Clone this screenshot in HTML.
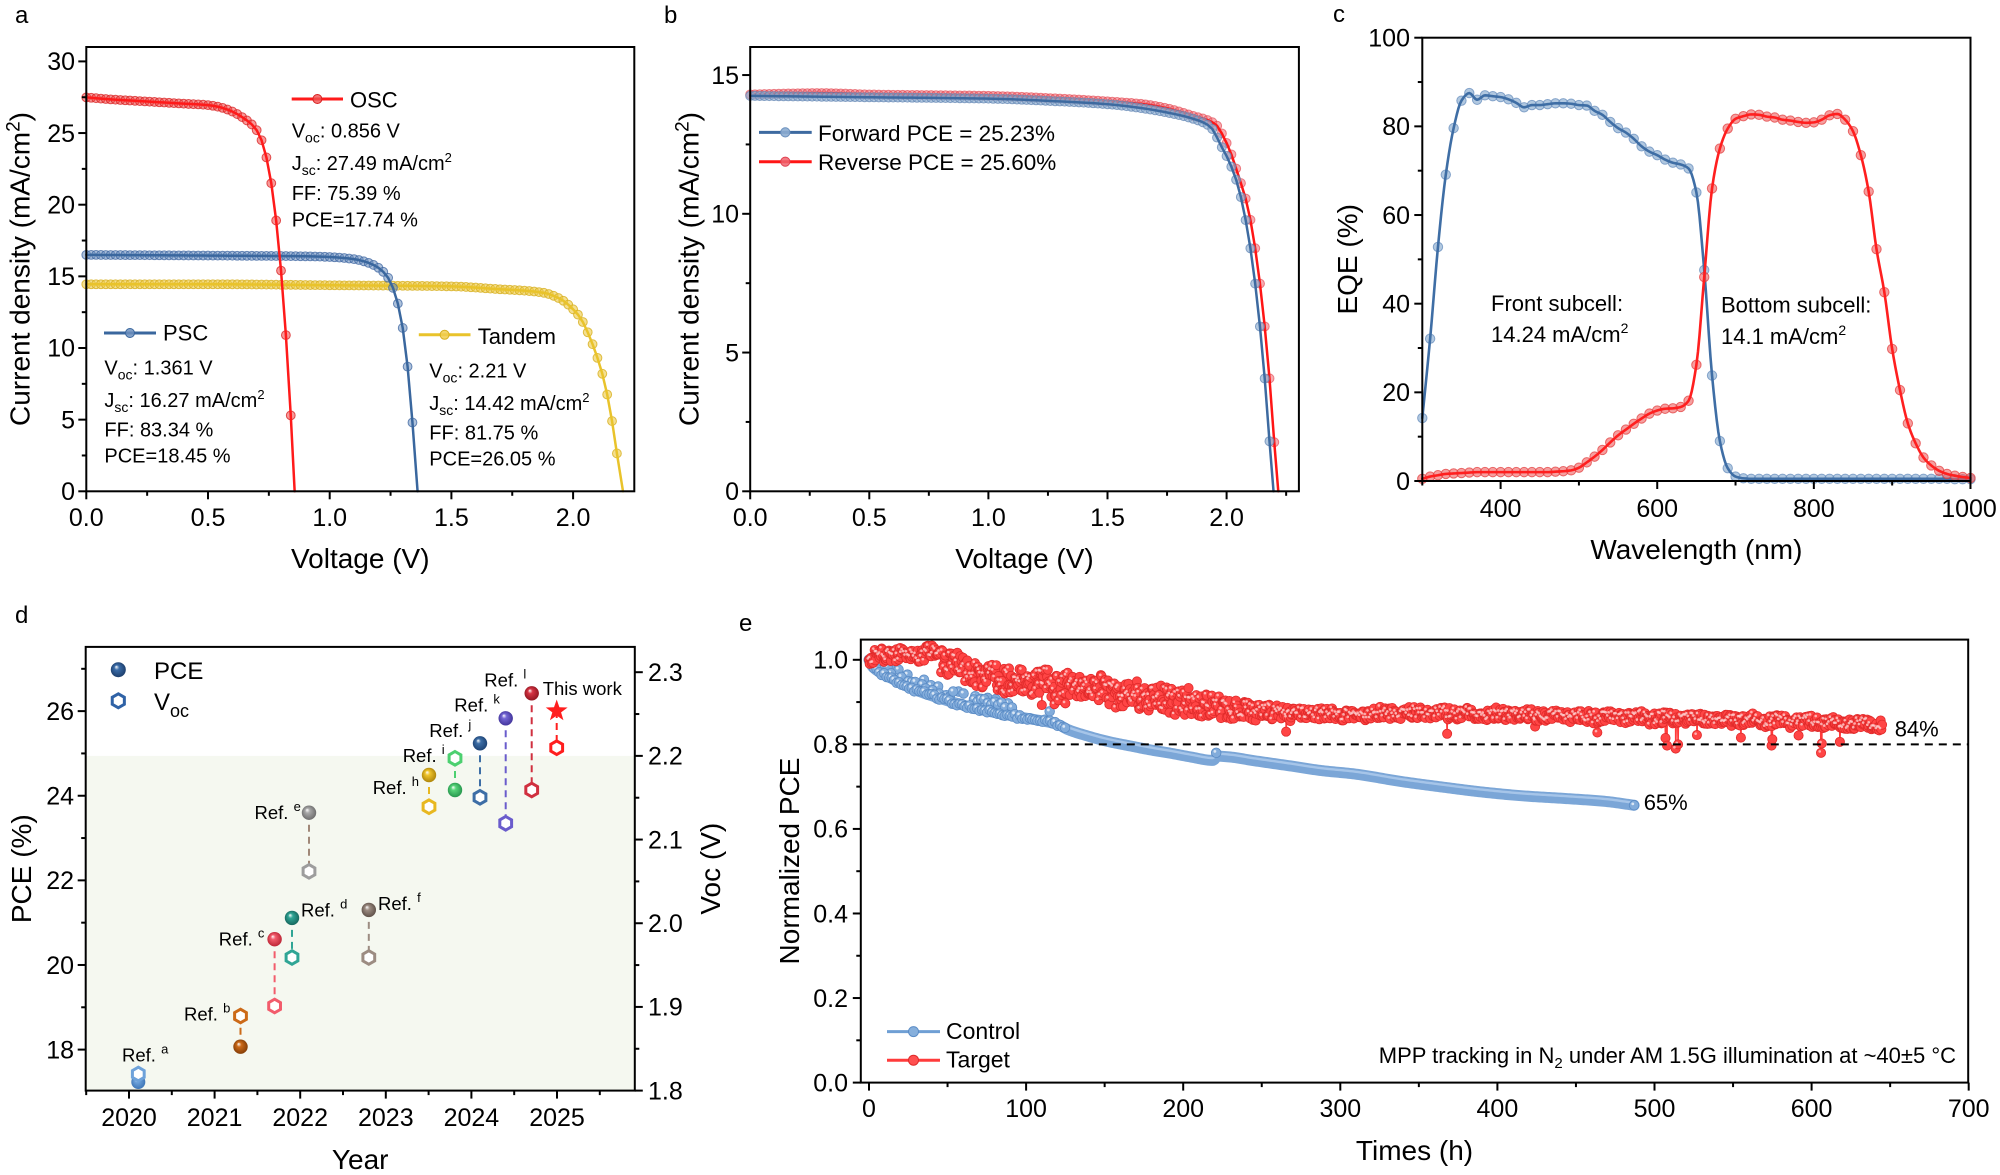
<!DOCTYPE html>
<html><head><meta charset="utf-8"><title>Solar cell figure</title>
<style>
html,body{margin:0;padding:0;background:#fff;width:2000px;height:1175px;overflow:hidden;}
svg{display:block;}
svg text{font-family:"Liberation Sans",Arial,Helvetica,sans-serif;fill:#000;}
</style></head>
<body>
<svg id="fig" width="2000" height="1175" viewBox="0 0 2000 1175">
<rect x="0" y="0" width="2000" height="1175" fill="#fff"/>
<rect x="85.7" y="755.9" width="549.1" height="334.7" fill="#f5f8f0"/>
<g id="dyn"></g>
<g fill="none" stroke="#000" stroke-width="2">
<rect x="86.3" y="47" width="548" height="444.3"/>
<rect x="750.2" y="47" width="548.7" height="444.3"/>
<rect x="1422.3" y="37.7" width="548.2" height="443.3"/>
<rect x="85.7" y="646.9" width="549.1" height="443.7"/>
<rect x="860.8" y="639.6" width="1107.4" height="443"/>
</g>
<g id="tk"></g>
<g id="txt">
<!-- panel labels -->
<text x="15" y="23" font-size="24">a</text>
<text x="664" y="23" font-size="24">b</text>
<text x="1333" y="22" font-size="24">c</text>
<text x="15" y="623" font-size="24">d</text>
<text x="739" y="631" font-size="24">e</text>

<!-- panel a ticks -->
<g font-size="25">
<text x="75" y="500" text-anchor="end">0</text>
<text x="75" y="428.4" text-anchor="end">5</text>
<text x="75" y="356.7" text-anchor="end">10</text>
<text x="75" y="285.1" text-anchor="end">15</text>
<text x="75" y="213.4" text-anchor="end">20</text>
<text x="75" y="141.8" text-anchor="end">25</text>
<text x="75" y="70.1" text-anchor="end">30</text>
<text x="86.3" y="526.2" text-anchor="middle">0.0</text>
<text x="208" y="526.2" text-anchor="middle">0.5</text>
<text x="329.7" y="526.2" text-anchor="middle">1.0</text>
<text x="451.4" y="526.2" text-anchor="middle">1.5</text>
<text x="573.1" y="526.2" text-anchor="middle">2.0</text>
</g>
<text x="360.3" y="568" font-size="28" text-anchor="middle">Voltage (V)</text>
<text transform="translate(19.5,269) rotate(-90)" x="0" y="10" font-size="28" text-anchor="middle">Current density (mA/cm<tspan dy="-10" font-size="19">2</tspan><tspan dy="10">)</tspan></text>
<!-- panel a annotations -->
<text x="350" y="107.3" font-size="22">OSC</text>
<text x="291.7" y="137.5" font-size="20">V<tspan dy="5" font-size="14">oc</tspan><tspan dy="-5">: 0.856 V</tspan></text>
<text x="291.7" y="170" font-size="20">J<tspan dy="5" font-size="14">sc</tspan><tspan dy="-5">: 27.49 mA/cm</tspan><tspan dy="-8" font-size="13">2</tspan></text>
<text x="291.7" y="200" font-size="20">FF: 75.39 %</text>
<text x="291.7" y="226.5" font-size="20">PCE=17.74 %</text>
<text x="163" y="340.4" font-size="22">PSC</text>
<text x="104.4" y="374.5" font-size="20">V<tspan dy="5" font-size="14">oc</tspan><tspan dy="-5">: 1.361 V</tspan></text>
<text x="104.4" y="407" font-size="20">J<tspan dy="5" font-size="14">sc</tspan><tspan dy="-5">: 16.27 mA/cm</tspan><tspan dy="-8" font-size="13">2</tspan></text>
<text x="104.4" y="436.5" font-size="20">FF: 83.34 %</text>
<text x="104.4" y="462.5" font-size="20">PCE=18.45 %</text>
<text x="477.7" y="344" font-size="22">Tandem</text>
<text x="429.3" y="377.4" font-size="20">V<tspan dy="5" font-size="14">oc</tspan><tspan dy="-5">: 2.21 V</tspan></text>
<text x="429.3" y="410" font-size="20">J<tspan dy="5" font-size="14">sc</tspan><tspan dy="-5">: 14.42 mA/cm</tspan><tspan dy="-8" font-size="13">2</tspan></text>
<text x="429.3" y="439.5" font-size="20">FF: 81.75 %</text>
<text x="429.3" y="465.4" font-size="20">PCE=26.05 %</text>

<!-- panel b -->
<g font-size="25">
<text x="739" y="500" text-anchor="end">0</text>
<text x="739" y="361.3" text-anchor="end">5</text>
<text x="739" y="222.5" text-anchor="end">10</text>
<text x="739" y="83.8" text-anchor="end">15</text>
<text x="750.2" y="526.2" text-anchor="middle">0.0</text>
<text x="869.3" y="526.2" text-anchor="middle">0.5</text>
<text x="988.4" y="526.2" text-anchor="middle">1.0</text>
<text x="1107.5" y="526.2" text-anchor="middle">1.5</text>
<text x="1226.6" y="526.2" text-anchor="middle">2.0</text>
</g>
<text x="1024.5" y="568" font-size="28" text-anchor="middle">Voltage (V)</text>
<text transform="translate(688.5,269) rotate(-90)" x="0" y="10" font-size="28" text-anchor="middle">Current density (mA/cm<tspan dy="-10" font-size="19">2</tspan><tspan dy="10">)</tspan></text>
<text x="818" y="141" font-size="22.5">Forward PCE = 25.23%</text>
<text x="818" y="170" font-size="22.5">Reverse PCE = 25.60%</text>

<!-- panel c -->
<g font-size="25">
<text x="1410" y="489.8" text-anchor="end">0</text>
<text x="1410" y="401" text-anchor="end">20</text>
<text x="1410" y="312.4" text-anchor="end">40</text>
<text x="1410" y="223.8" text-anchor="end">60</text>
<text x="1410" y="135.1" text-anchor="end">80</text>
<text x="1410" y="46.4" text-anchor="end">100</text>
<text x="1500.6" y="516.8" text-anchor="middle">400</text>
<text x="1657.2" y="516.8" text-anchor="middle">600</text>
<text x="1813.8" y="516.8" text-anchor="middle">800</text>
<text x="1969" y="516.8" text-anchor="middle">1000</text>
</g>
<text x="1696.4" y="559" font-size="28" text-anchor="middle">Wavelength (nm)</text>
<text transform="translate(1347,259.3) rotate(-90)" x="0" y="10" font-size="28" text-anchor="middle">EQE (%)</text>
<text x="1491" y="311" font-size="22">Front subcell:</text>
<text x="1491" y="342" font-size="22">14.24 mA/cm<tspan dy="-9" font-size="14">2</tspan></text>
<text x="1721" y="312.6" font-size="22">Bottom subcell:</text>
<text x="1721" y="344" font-size="22">14.1 mA/cm<tspan dy="-9" font-size="14">2</tspan></text>

<!-- panel d -->
<g font-size="25">
<text x="74" y="1058.4" text-anchor="end">18</text>
<text x="74" y="973.8" text-anchor="end">20</text>
<text x="74" y="889.2" text-anchor="end">22</text>
<text x="74" y="804.5" text-anchor="end">24</text>
<text x="74" y="719.9" text-anchor="end">26</text>
<text x="648" y="1099.4">1.8</text>
<text x="648" y="1015.7">1.9</text>
<text x="648" y="932">2.0</text>
<text x="648" y="848.4">2.1</text>
<text x="648" y="764.7">2.2</text>
<text x="648" y="681">2.3</text>
<text x="129" y="1126" text-anchor="middle">2020</text>
<text x="214.6" y="1126" text-anchor="middle">2021</text>
<text x="300.2" y="1126" text-anchor="middle">2022</text>
<text x="385.8" y="1126" text-anchor="middle">2023</text>
<text x="471.4" y="1126" text-anchor="middle">2024</text>
<text x="557" y="1126" text-anchor="middle">2025</text>
</g>
<text x="360.2" y="1169" font-size="28" text-anchor="middle">Year</text>
<text transform="translate(21,868.7) rotate(-90)" x="0" y="10" font-size="28" text-anchor="middle">PCE (%)</text>
<text transform="translate(710,868.7) rotate(-90)" x="0" y="10" font-size="28" text-anchor="middle">Voc (V)</text>
<text x="154" y="679" font-size="24">PCE</text>
<text x="154" y="710" font-size="24">V<tspan dy="7" font-size="18">oc</tspan></text>
<text x="122" y="1061.5" font-size="18.5">Ref. <tspan dy="-8" font-size="13">a</tspan></text>
<text x="184" y="1020.5" font-size="18.5">Ref. <tspan dy="-8" font-size="13">b</tspan></text>
<text x="218.8" y="945.5" font-size="18.5">Ref. <tspan dy="-8" font-size="13">c</tspan></text>
<text x="301" y="916.5" font-size="18.5">Ref. <tspan dy="-8" font-size="13">d</tspan></text>
<text x="254.5" y="819.2" font-size="18.5">Ref. <tspan dy="-8" font-size="13">e</tspan></text>
<text x="378" y="910.1" font-size="18.5">Ref. <tspan dy="-8" font-size="13">f</tspan></text>
<text x="372.7" y="794.2" font-size="18.5">Ref. <tspan dy="-8" font-size="13">h</tspan></text>
<text x="402.7" y="762.2" font-size="18.5">Ref. <tspan dy="-8" font-size="13">i</tspan></text>
<text x="429.3" y="737.2" font-size="18.5">Ref. <tspan dy="-8" font-size="13">j</tspan></text>
<text x="454.3" y="711.5" font-size="18.5">Ref. <tspan dy="-8" font-size="13">k</tspan></text>
<text x="484.3" y="686.5" font-size="18.5">Ref. <tspan dy="-8" font-size="13">l</tspan></text>
<text x="542.7" y="694.8" font-size="18.5">This work</text>

<!-- panel e -->
<g font-size="25">
<text x="848" y="1091.4" text-anchor="end">0.0</text>
<text x="848" y="1006.8" text-anchor="end">0.2</text>
<text x="848" y="922.3" text-anchor="end">0.4</text>
<text x="848" y="837.7" text-anchor="end">0.6</text>
<text x="848" y="753.2" text-anchor="end">0.8</text>
<text x="848" y="668.6" text-anchor="end">1.0</text>
<text x="869" y="1117" text-anchor="middle">0</text>
<text x="1026.1" y="1117" text-anchor="middle">100</text>
<text x="1183.2" y="1117" text-anchor="middle">200</text>
<text x="1340.3" y="1117" text-anchor="middle">300</text>
<text x="1497.4" y="1117" text-anchor="middle">400</text>
<text x="1654.5" y="1117" text-anchor="middle">500</text>
<text x="1811.6" y="1117" text-anchor="middle">600</text>
<text x="1968.7" y="1117" text-anchor="middle">700</text>
</g>
<text x="1414.5" y="1160" font-size="28" text-anchor="middle">Times (h)</text>
<text transform="translate(789,861) rotate(-90)" x="0" y="10" font-size="28" text-anchor="middle">Normalized PCE</text>
<text x="946" y="1039" font-size="23">Control</text>
<text x="946" y="1067.5" font-size="23">Target</text>
<text x="1894.7" y="736.5" font-size="22">84%</text>
<text x="1643.7" y="810" font-size="22">65%</text>
<text x="1956" y="1063" font-size="22" text-anchor="end">MPP tracking in N<tspan dy="5" font-size="15">2</tspan><tspan dy="-5"> under AM 1.5G illumination at ~40±5 °C</tspan></text>
</g>
</svg>
<script>
(function(){
var o=[],tko=[];
function P(s){o.push(s);}
function n(v){return Math.round(v*100)/100;}
function L(x1,y1,x2,y2,c,w,ex){P('<line x1="'+n(x1)+'" y1="'+n(y1)+'" x2="'+n(x2)+'" y2="'+n(y2)+'" stroke="'+c+'" stroke-width="'+w+'"'+(ex||'')+'/>');}
function C(x,y,r,f,ex){P('<circle cx="'+n(x)+'" cy="'+n(y)+'" r="'+r+'" fill="'+f+'"'+(ex||'')+'/>');}
function PL(pts,c,w,ex){var s=[];for(var i=0;i<pts.length;i++)s.push(n(pts[i][0])+','+n(pts[i][1]));P('<polyline points="'+s.join(' ')+'" fill="none" stroke="'+c+'" stroke-width="'+w+'" stroke-linejoin="round" stroke-linecap="round"'+(ex||'')+'/>');}
function rng(a,b,s){var r=[];for(var i=0;;i++){var v=a+i*s;if(v>b+1e-9)break;r.push(v);}return r;}
function pchip(xs,ys){
 var N=xs.length,h=[],d=[],m=new Array(N);
 for(var i=0;i<N-1;i++){h[i]=xs[i+1]-xs[i];d[i]=(ys[i+1]-ys[i])/h[i];}
 m[0]=d[0];m[N-1]=d[N-2];
 for(var i=1;i<N-1;i++){
  if(d[i-1]*d[i]<=0)m[i]=0;
  else{var w1=2*h[i]+h[i-1],w2=h[i]+2*h[i-1];m[i]=(w1+w2)/(w1/d[i-1]+w2/d[i]);}
 }
 return function(x){
  if(x<=xs[0])return ys[0];if(x>=xs[N-1])return ys[N-1];
  var i=0;while(i<N-2&&x>xs[i+1])i++;
  var hh=h[i],t=(x-xs[i])/hh,t2=t*t,t3=t2*t;
  return (2*t3-3*t2+1)*ys[i]+(t3-2*t2+t)*hh*m[i]+(-2*t3+3*t2)*ys[i+1]+(t3-t2)*hh*m[i+1];
 };
}
function TK(x1,y1,x2,y2){tko.push('<line x1="'+n(x1)+'" y1="'+n(y1)+'" x2="'+n(x2)+'" y2="'+n(y2)+'" stroke="#000" stroke-width="2"/>');}
function yt(Lx,vals,Y,len,dir){vals.forEach(function(v){var y=Y(v);TK(Lx,y,Lx-dir*len,y);});}
function xt(By,vals,X,len){vals.forEach(function(v){var x=X(v);TK(x,By,x,By+len);});}

/* ---------- Panel a ---------- */
var aX=function(v){return 86.3+243.4*v;},aY=function(j){return 491.3-14.33*j;};
function ivSeries(xs,ys,vmax,vend,X,Y,lc,mf,ms,r){
 var f=pchip(xs,ys),pts=[];
 for(var i=0;;i++){var v=i*0.02;if(v>vmax+1e-6)break;pts.push([X(v),Y(f(v))]);}
 pts.forEach(function(p){C(p[0],p[1],r,mf,' stroke="'+ms+'" stroke-width="1"');});
 var lp=pts.slice();lp.push([X(vend),Y(0)]);
 PL(lp,lc,2.5);
}
ivSeries([0,0.5,1.0,1.5,1.7,1.8,1.88,1.95,2.0,2.03,2.06,2.09,2.12,2.15,2.17,2.19,2.205],
 [14.45,14.45,14.38,14.3,14.1,14.0,13.85,13.4,12.7,12.1,11.1,9.8,8.2,5.9,3.8,1.5,0],
 2.19,2.205,aX,aY,'#e9c32b','rgba(236,202,70,0.6)','rgba(215,175,30,0.8)',4.4);
ivSeries([0,0.5,0.9,1.0,1.1,1.15,1.2,1.24,1.26,1.28,1.30,1.32,1.34,1.361],
 [16.5,16.45,16.4,16.35,16.2,16.0,15.6,14.9,14.2,13.1,11.4,8.7,4.8,0],
 1.34,1.361,aX,aY,'#3a679e','rgba(105,142,190,0.55)','rgba(60,100,160,0.75)',4.4);
ivSeries([0,0.1,0.2,0.3,0.4,0.5,0.55,0.6,0.65,0.68,0.70,0.72,0.74,0.76,0.78,0.80,0.82,0.84,0.856],
 [27.49,27.35,27.25,27.15,27.05,26.95,26.8,26.5,26.0,25.6,25.2,24.5,23.3,21.5,18.9,15.4,10.9,5.3,0],
 0.84,0.856,aX,aY,'#ff1a1a','rgba(240,70,70,0.55)','rgba(215,30,30,0.75)',4.4);
L(291.7,99,343,99,'#ff1a1a',3);C(317.4,99,4.5,'rgba(240,80,80,0.8)',' stroke="#d82020" stroke-width="1"');
L(104,333,156,333,'#3a679e',3);C(130,333,4.5,'rgba(110,145,190,0.85)',' stroke="#3a679e" stroke-width="1"');
L(418.8,334.8,470.5,334.8,'#e9c32b',3);C(444.6,334.8,4.5,'rgba(240,205,80,0.85)',' stroke="#d8b020" stroke-width="1"');
yt(86.3,rng(0,30,5),aY,8,1);yt(86.3,rng(2.5,27.5,5),aY,4.5,1);
xt(491.3,rng(0,2,0.5),aX,8);xt(491.3,rng(0.25,1.75,0.5),aX,4.5);

/* ---------- Panel b ---------- */
var bX=function(v){return 750.2+238.2*v;},bY=function(j){return 491.3-27.75*j;};
ivSeries([0,0.3,0.5,1.0,1.3,1.5,1.65,1.75,1.85,1.95,2.0,2.03,2.05,2.07,2.09,2.11,2.13,2.15,2.17,2.19,2.21,2.217],
 [14.3,14.35,14.3,14.25,14.15,14.05,13.95,13.8,13.55,13.25,12.55,11.9,11.35,10.85,10.2,9.3,8.15,6.75,5.05,3.0,0.6,0],
 2.21,2.217,bX,bY,'#ff1515','rgba(240,90,100,0.5)','rgba(225,60,70,0.6)',4.5);
ivSeries([0,0.5,1.0,1.3,1.5,1.65,1.75,1.85,1.93,1.98,2.01,2.05,2.07,2.09,2.11,2.13,2.15,2.17,2.19,2.197],
 [14.25,14.2,14.15,14.05,13.95,13.8,13.65,13.45,13.15,12.4,11.9,10.95,10.2,9.3,8.15,6.75,5.05,3.0,0.65,0],
 2.19,2.197,bX,bY,'#3d6aa0','rgba(140,172,208,0.65)','rgba(100,135,180,0.75)',4.5);
L(759,132.4,811.7,132.4,'#3d6aa0',3);C(785.3,132.4,4.6,'rgba(140,172,208,0.9)',' stroke="#6d92bf" stroke-width="1"');
L(759,161.7,811.7,161.7,'#ff1515',3);C(785.3,161.7,4.6,'rgba(240,100,110,0.85)',' stroke="#e04050" stroke-width="1"');
yt(750.2,rng(0,15,5),bY,8,1);yt(750.2,rng(2.5,12.5,5),bY,4.5,1);
xt(491.3,rng(0,2,0.5),bX,8);xt(491.3,rng(0.25,2.25,0.5),bX,4.5);

/* ---------- Panel c ---------- */
var cX=function(w){return 1422.3+(w-300)*0.7831;},cY=function(e){return 481-4.433*e;};
var wl=rng(300,1000,10);
var blueC=[14.2,32.1,52.8,69.1,79.6,85.8,87.5,86.0,87.0,86.8,
 86.6,86.1,85.3,84.3,84.8,84.8,85.0,85.2,85.2,85.1,
 84.8,84.7,83.5,82.6,81.0,79.6,78.6,77.2,75.5,74.3,
 73.5,72.5,71.8,71.4,70.5,65.1,47.6,23.8,9.0,2.9,
 1.0,0.6,0.5,0.5,0.5,0.5,0.5,0.5,0.5,0.5,
 0.5,0.5,0.5,0.5,0.5,0.5,0.5,0.5,0.5,0.5,
 0.5,0.5,0.5,0.5,0.5,0.5,0.5,0.5,0.4,0.4,0.4];
var redC=[0.5,1.0,1.3,1.6,1.7,1.8,1.9,2.0,2.0,2.0,
 2.0,2.0,2.0,2.0,2.0,2.0,2.0,2.1,2.2,2.4,
 3.0,4.2,5.5,7.0,8.7,10.3,11.6,12.9,14.1,15.2,
 15.9,16.3,16.4,16.7,18.1,26.2,46.0,66.0,75.0,79.5,
 81.7,82.3,82.7,82.6,82.2,82.0,81.5,81.3,81.0,80.8,
 80.9,81.5,82.5,82.8,81.5,78.9,73.5,65.3,52.3,42.6,
 29.8,20.5,13.0,8.5,5.3,3.5,2.3,1.6,1.2,0.9,0.7];
function eqe(vals,lc,mf,ms){
 var f=pchip(wl,vals),lp=[];
 for(var w=300;w<=1000;w+=2)lp.push([cX(w),cY(f(w))]);
 for(var i=0;i<wl.length;i++)C(cX(wl[i]),cY(vals[i]),4.7,mf,' stroke="'+ms+'" stroke-width="1"');
 PL(lp,lc,2.6);
}
eqe(blueC,'#3f6ea5','rgba(135,170,208,0.65)','rgba(95,135,185,0.7)');
eqe(redC,'#ff1f1f','rgba(240,95,95,0.6)','rgba(225,55,55,0.7)');
yt(1422.3,rng(0,100,20),cY,8,1);yt(1422.3,rng(10,90,20),cY,4.5,1);
xt(481,rng(400,1000,200),cX,8);xt(481,rng(300,900,200),cX,4.5);

/* ---------- Panel d ---------- */
var dX=function(y){return 129+85.6*(y-2020);},dYl=function(p){return 1049.6-42.31*(p-18);},dYr=function(v){return 1090.6-836.8*(v-1.8);};
var gid=0;
function grad(c,dk){var id='bg'+(gid++);P('<radialGradient id="'+id+'" cx="0.5" cy="0.5" r="0.55" fx="0.36" fy="0.3"><stop offset="0" stop-color="#ffffff"/><stop offset="0.3" stop-color="'+c+'"/><stop offset="1" stop-color="'+dk+'"/></radialGradient>');return id;}
function ball(x,y,r,c,dk){var id=grad(c,dk);C(x,y,r,'url(#'+id+')');}
function hex(cx,cy,r,c){var s=[];for(var k=0;k<6;k++){var a=Math.PI/180*(-90+60*k);s.push(n(cx+r*Math.cos(a))+','+n(cy+r*Math.sin(a)));}P('<polygon points="'+s.join(' ')+'" fill="#fff" stroke="'+c+'" stroke-width="3"/>');}
function star(cx,cy,R,r,c){var s=[];for(var k=0;k<10;k++){var a=Math.PI/180*(-90+36*k),rr=(k%2)?r:R;s.push(n(cx+rr*Math.cos(a))+','+n(cy+rr*Math.sin(a)));}P('<polygon points="'+s.join(' ')+'" fill="'+c+'"/>');}
var refs=[
 [138.3,1082,1074,'#6ea2da','#3a72b4','#6ea2da',false],
 [240.5,1046.7,1016,'#cc6a18','#7e3a06','#cc6a18',true],
 [274.6,939.2,1006,'#f25c6c','#b82232','#f25c6c',true],
 [292,917.9,957.5,'#2fa595','#146259','#2fa595',true],
 [309,812.7,871.4,'#a8a8a8','#686868','#a08878',true],
 [368.8,909.9,957.5,'#9c8c82','#5a4c44','#9c8c82',true],
 [429,775,806.7,'#efc42c','#a88008','#e8b820',true],
 [455,790,758.3,'#58d47a','#23924a','#4cd070',true],
 [480,743.3,797.3,'#3d6ea6','#1a3f70','#3d6ea6',true],
 [505.7,718.3,823.3,'#7466d4','#3e3096','#6a5ccc',true],
 [531.7,693.3,790,'#d63444','#8c141e','#d03040',true]
];
refs.forEach(function(r){ if(r[6])L(r[0],r[1],r[0],r[2],r[5],2,' stroke-dasharray="7,5"'); });
refs.forEach(function(r){
 var hc=(r===refs[4])?'#9d9d9d':r[5];
 if(r===refs[0]){ball(r[0],r[1],7,r[3],r[4]);hex(r[0],r[2],6.8,r[3]);}
 else{hex(r[0],r[2],6.8,hc);ball(r[0],r[1],7.2,r[3],r[4]);}
});
L(556.7,711,556.7,747.7,'#ff1e1e',2,' stroke-dasharray="7,5"');
hex(556.7,747.7,6.8,'#ff1e1e');
star(556.7,711,11.5,4.6,'#ff1e1e');
ball(118.3,669.7,7.5,'#3a6ca8','#1a3a66');
hex(118.3,700.8,7,'#2f62a6');
yt(85.7,rng(18,26,2),dYl,8,1);yt(85.7,rng(19,27,2),dYl,4.5,1);
yt(634.8,rng(1.8,2.3,0.1),dYr,8,-1);yt(634.8,rng(1.85,2.25,0.1),dYr,4.5,-1);
xt(1090.6,rng(2020,2025,1),dX,8);xt(1090.6,rng(2019.5,2025.5,1),dX,4.5);

/* ---------- Panel e ---------- */
var eX=function(t){return 869+1.571*t;},eY=function(v){return 1082.6-422.8*v;};
var seed=987654;
function rnd(){seed|=0;seed=seed+0x6D2B79F5|0;var t=Math.imul(seed^seed>>>15,1|seed);t=t+Math.imul(t^t>>>7,61|t)^t;return((t^t>>>14)>>>0)/4294967296;}
// control
var cf=pchip([0,2,5,10,20,30,40,53,74,100,115,121,126,139,152,168,179,192,205,219,222,230,244,270,288,309,339,365,391,417,443,469,487],
 [1.0,0.985,0.975,0.965,0.945,0.928,0.915,0.9,0.88,0.862,0.852,0.846,0.836,0.82,0.807,0.795,0.787,0.779,0.77,0.762,0.772,0.77,0.762,0.748,0.738,0.73,0.712,0.699,0.687,0.678,0.672,0.665,0.656]);
var cp=[];for(var t=0;t<=487;t+=1)cp.push([eX(t),eY(cf(t))]);
PL(cp,'#7ba6d7',11);
PL(cp,'#a6c5e9',2.4,' transform="translate(0,-2.4)"');
var outl=[[0,1.0],[6.3,0.985],[14.6,0.98],[18.8,0.977],[24.5,0.965],[35,0.953],[39.4,0.94],[44,0.937],[57,0.925],[67.6,0.914],[75.5,0.91],[80.7,0.907],[88.5,0.897],[115,0.878],[221,0.78],[487,0.656]];
for(var t=3;t<=95;t+=2.2){ if(rnd()<0.6) outl.push([t,cf(t)+0.01+rnd()*0.018]); }
for(var t=0;t<=125;t+=1.6){ outl.push([t,cf(t)+(rnd()-0.5)*0.01]); }
outl.forEach(function(p){C(eX(p[0]),eY(p[1]),4.8,'#82acdb',' stroke="#5a8bc5" stroke-width="0.8"');C(eX(p[0])-1.3,eY(p[1])-1.4,1.4,'rgba(255,255,255,0.7)');});
// target
var tf=pchip([0,5,10,20,30,40,45,55,70,90,110,130,150,170,190,210,230,260,300,350,400,450,500,550,600,645],
 [1.0,1.008,1.012,1.012,1.012,1.018,1.005,0.985,0.965,0.952,0.945,0.938,0.928,0.918,0.905,0.893,0.883,0.874,0.872,0.874,0.871,0.866,0.862,0.858,0.853,0.845]);
var dips=[[110,0.893],[118,0.895],[125,0.897],[161.7,0.89],[172,0.884],[178,0.88],[201,0.87],[231,0.878],[265.5,0.83],[368,0.825],[424,0.842],[463.6,0.828],[507,0.815],[508,0.797],[513.5,0.79],[515,0.8],[527,0.822],[555,0.816],[574.5,0.797],[575,0.812],[591.7,0.821],[606,0.78],[606.5,0.802],[618,0.806]];
var tp=[],di=0;
for(var t=0;t<=645.001;t+=0.45){
 while(di<dips.length&&dips[di][0]<=t){tp.push([dips[di][0],dips[di][1]]);di++;}
 var a=t<45?0.02:(t<200?0.04:(t<280?0.04-(t-200)/80*0.023:0.017));
 var slow=Math.sin(t*0.35)*0.3+Math.sin(t*1.7+1)*0.2;
 var v=tf(t)+a*((rnd()*2-1)*0.75+slow*0.5);
 if(t===0)v=1.0;
 tp.push([t,v]);
}
var tpx=tp.map(function(p){return [eX(p[0]),eY(p[1])];});
PL(tpx,'#ff3a3a',1.6);
tpx.forEach(function(p){C(p[0],p[1],4.6,'#ff4545',' stroke="#e02a2a" stroke-width="0.8"');});
tpx.forEach(function(p,i){if(i%2===0)C(p[0]-1.3,p[1]-1.4,1.3,'rgba(255,215,215,0.75)');});
L(860.8,eY(0.8),1968.2,eY(0.8),'#000',2,' stroke-dasharray="8,6"');
L(887,1031.6,940,1031.6,'#6f9fd4',3);C(913.5,1031.6,5,'#86afdc',' stroke="#5b8cc6" stroke-width="1"');
L(887,1060.2,940,1060.2,'#ff3b3b',3);C(913.5,1060.2,5,'#ff5050',' stroke="#e02a2a" stroke-width="1"');
yt(860.8,rng(0,1,0.2),eY,8,1);yt(860.8,rng(0.1,0.9,0.2),eY,4.5,1);
xt(1082.6,rng(0,700,100),eX,8);xt(1082.6,rng(50,650,100),eX,4.5);

document.getElementById('dyn').innerHTML=o.join('');
document.getElementById('tk').innerHTML=tko.join('');
})();
</script>
</body></html>
